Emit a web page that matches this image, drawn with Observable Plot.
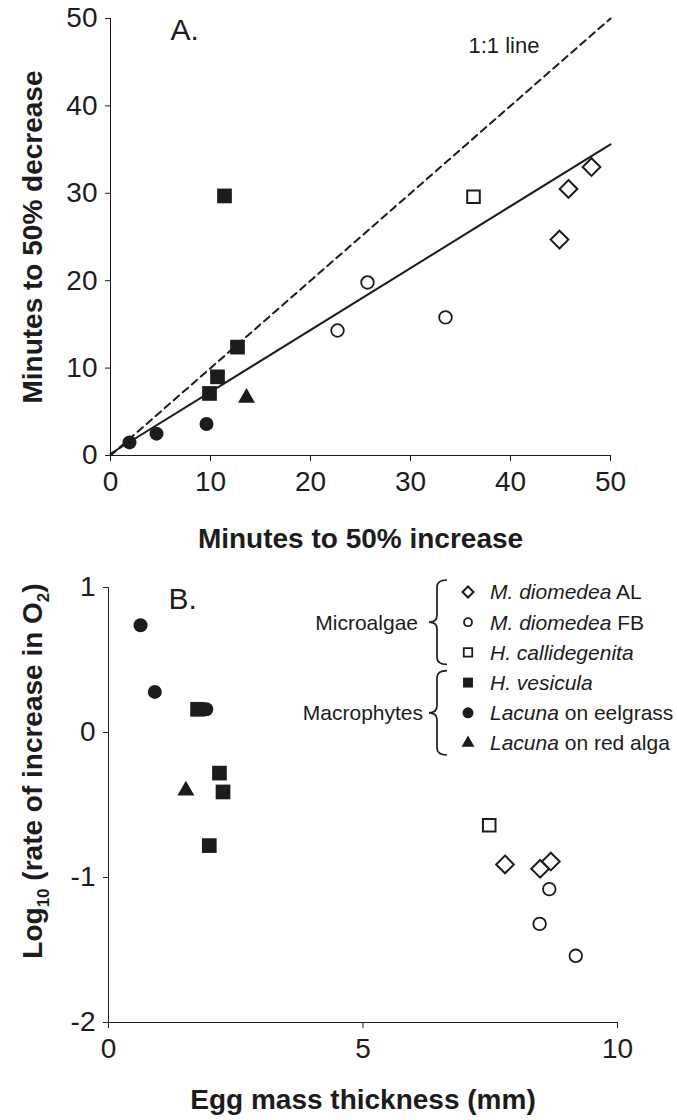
<!DOCTYPE html>
<html><head><meta charset="utf-8">
<script src="https://cdn.jsdelivr.net/npm/d3@7"></script>
<script src="https://cdn.jsdelivr.net/npm/@observablehq/plot@0.6"></script>
<style>
body{margin:0;background:#fff;}
#chart{position:relative;width:677px;height:1120px;background:#fff;}
#chart > div{position:absolute;left:0;}
#chart svg{display:block;}
</style></head><body><div id="chart"><div id="pa" style="top:0"></div><div id="pb" style="top:560px"></div></div>
<script>
// ---------- tick values ----------
const ticksA = [0, 10, 20, 30, 40, 50];
const ticksBx = [0, 5, 10];
const ticksBy = [-2, -1, 0, 1];

// ---------- Panel A: minutes to 50% increase (x) vs decrease (y) ----------
const aAL_x = [44.9, 45.8, 48.1];
const aAL_y = [24.7, 30.5, 33.0];
const aFB_x = [22.7, 25.7, 33.5];
const aFB_y = [14.3, 19.8, 15.8];
const aHC_x = [36.3];
const aHC_y = [29.6];
const aHV_x = [9.9, 10.7, 12.7, 11.4];
const aHV_y = [7.1, 9.0, 12.4, 29.7];
const aLE_x = [1.9, 4.6, 9.6];
const aLE_y = [1.5, 2.5, 3.6];
const aLR_x = [13.6];
const aLR_y = [6.6];
const fitX = [0, 50];
const fitY = [0.2, 35.6];
const oneToOne = [0, 50];

// ---------- Panel B: egg mass thickness (mm) vs log10 rate ----------
const bAL_x = [7.79, 8.48, 8.69];
const bAL_y = [-0.91, -0.94, -0.89];
const bFB_x = [8.66, 8.47, 9.18];
const bFB_y = [-1.08, -1.32, -1.54];
const bHC_x = [7.48];
const bHC_y = [-0.64];
const bHV_x = [1.75, 2.18, 2.25, 1.98];
const bHV_y = [0.16, -0.28, -0.41, -0.78];
const bLE_x = [0.63, 0.91, 1.92];
const bLE_y = [0.74, 0.28, 0.16];
const bLR_x = [1.52];
const bLR_y = [-0.40];

// ---------- legend text ----------
const seriesItalic = ["M. diomedea", "M. diomedea", "H. callidegenita", "H. vesicula", "Lacuna", "Lacuna"];
const seriesRest = [" AL", " FB", "", "", " on eelgrass", " on red alga"];
const groupNames = ["Microalgae", "Macrophytes"];

// ---------- styling ----------
const FONT = "'Liberation Sans', Arial, Helvetica, sans-serif";
const INK = "#1c1c1c";
const pts = (xs, ys) => xs.map((x, i) => ({x, y: ys[i]}));

const markerStyles = [
  {symbol: "diamond2", r: 8, fill: "white", stroke: INK, strokeWidth: 2},
  {symbol: "circle", r: 6.3, fill: "white", stroke: INK, strokeWidth: 1.8},
  {symbol: "square2", r: 8, fill: "white", stroke: INK, strokeWidth: 2},
  {symbol: "square", r: 8.3, fill: INK, stroke: "none"},
  {symbol: "circle", r: 7, fill: INK, stroke: "none"},
  {symbol: "triangle", r: 6.3, fill: INK, stroke: "none"}
];
const legendStyles = [
  {type: d3.symbolDiamond2, r: 5, fill: "white", stroke: INK, sw: 2},
  {type: d3.symbolCircle, r: 4, fill: "white", stroke: INK, sw: 1.8},
  {type: d3.symbolSquare2, r: 5.4, fill: "white", stroke: INK, sw: 1.8},
  {type: d3.symbolSquare, r: 5.6, fill: INK, stroke: "none", sw: 0},
  {type: d3.symbolCircle, r: 5.5, fill: INK, stroke: "none", sw: 0},
  {type: d3.symbolTriangle, r: 4.8, fill: INK, stroke: "none", sw: 0}
];

function dotMarks(seriesXY) {
  return seriesXY.map(([xs, ys], i) => Plot.dot(pts(xs, ys), {x: "x", y: "y", ...markerStyles[i]}));
}

// ---------- Panel A ----------
const plotA = Plot.plot({
  width: 677, height: 560,
  marginTop: 18, marginBottom: 105, marginLeft: 110, marginRight: 67,
  style: {fontFamily: FONT, fontSize: "28px", color: INK, background: "white", overflow: "visible"},
  x: {domain: [0, 50], ticks: ticksA, tickSize: 6, tickPadding: 10, line: true, label: null},
  y: {domain: [0, 50], ticks: ticksA, tickSize: 5, tickPadding: 8, line: true, label: null},
  marks: [
    Plot.line(pts(oneToOne, oneToOne), {x: "x", y: "y", stroke: INK, strokeWidth: 2, strokeDasharray: "7,5"}),
    Plot.line(pts(fitX, fitY), {x: "x", y: "y", stroke: INK, strokeWidth: 2}),
    ...dotMarks([[aAL_x, aAL_y], [aFB_x, aFB_y], [aHC_x, aHC_y], [aHV_x, aHV_y], [aLE_x, aLE_y], [aLR_x, aLR_y]]),
    Plot.text(["A."], {text: d => d, frameAnchor: "top-left", dx: 60, dy: 0, lineAnchor: "top", textAnchor: "start", fontSize: 30, fill: INK}),
    Plot.text(["1:1 line"], {text: d => d, frameAnchor: "top-left", dx: 358, dy: 19, lineAnchor: "top", textAnchor: "start", fontSize: 22, fill: INK}),
    Plot.text(["Minutes to 50% increase"], {text: d => d, frameAnchor: "bottom", dy: 92, lineAnchor: "bottom", fontSize: 28, fontWeight: "bold", fill: INK}),
    Plot.text(["Minutes to 50% decrease"], {text: d => d, frameAnchor: "left", dx: -77, rotate: -90, textAnchor: "middle", lineAnchor: "middle", fontSize: 28, fontWeight: "bold", fill: INK})
  ]
});
document.getElementById("pa").append(plotA);

// ---------- Panel B helpers ----------
function legendMark() {
  const g = d3.create("svg:g").attr("font-family", FONT).attr("font-size", 21).attr("fill", INK)
    .attr("text-anchor", "start").style("white-space", "pre");
  const symX = 468, textX = 490, row0 = 32, step = 30.2;
  const rowY = i => row0 + i * step;
  seriesItalic.forEach((name, i) => {
    const st = legendStyles[i];
    g.append("path")
      .attr("transform", `translate(${symX},${rowY(i)})`)
      .attr("d", d3.symbol(st.type, Math.PI * st.r * st.r)())
      .attr("fill", st.fill).attr("stroke", st.stroke).attr("stroke-width", st.sw);
    const t = g.append("text").attr("x", textX).attr("y", rowY(i)).attr("dy", "0.35em").attr("text-anchor", "start");
    t.append("tspan").attr("font-style", "italic").text(name);
    if (seriesRest[i]) t.append("tspan").text(seriesRest[i]);
  });
  const groups = [[0, 2], [3, 5]];
  const labelRight = [418, 423];
  groups.forEach(([a, b], k) => {
    const top = rowY(a) - 12, bot = rowY(b) + 12, mid = rowY((a + b) / 2);
    const x0 = 429, xm = 437, x1 = 447, r = 7;
    g.append("path")
      .attr("d", `M${x1},${top} Q${xm},${top} ${xm},${top + r} L${xm},${mid - r} Q${xm},${mid} ${x0},${mid} Q${xm},${mid} ${xm},${mid + r} L${xm},${bot - r} Q${xm},${bot} ${x1},${bot}`)
      .attr("fill", "none").attr("stroke", INK).attr("stroke-width", 1.7);
    g.append("text").attr("x", labelRight[k]).attr("y", mid).attr("dy", "0.35em")
      .attr("text-anchor", "end").text(groupNames[k]);
  });
  return g.node();
}

function yTitleB() {
  const t = d3.create("svg:text")
    .attr("transform", "translate(42,211) rotate(-90)")
    .attr("text-anchor", "middle").attr("font-family", FONT)
    .attr("font-weight", "bold").attr("font-size", 28).attr("fill", INK);
  t.append("tspan").text("Log");
  t.append("tspan").attr("font-size", 17).attr("dy", 7).text("10");
  t.append("tspan").attr("dy", -7).text("\u00a0(rate of increase in O");
  t.append("tspan").attr("font-size", 17).attr("dy", 7).text("2");
  t.append("tspan").attr("dy", -7).text(")");
  return t.node();
}

// ---------- Panel B ----------
const plotB = Plot.plot({
  width: 677, height: 560,
  marginTop: 27, marginBottom: 98, marginLeft: 108, marginRight: 60,
  style: {fontFamily: FONT, fontSize: "28px", color: INK, background: "white", overflow: "visible"},
  x: {domain: [0, 10], ticks: ticksBx, tickSize: 6, tickPadding: 10, line: true, label: null},
  y: {domain: [-2, 1], ticks: ticksBy, tickSize: 5, tickPadding: 8, line: true, label: null, tickFormat: d => String(d)},
  marks: [
    ...dotMarks([[bAL_x, bAL_y], [bFB_x, bFB_y], [bHC_x, bHC_y], [bHV_x, bHV_y], [bLE_x, bLE_y], [bLR_x, bLR_y]]),
    Plot.text(["B."], {text: d => d, frameAnchor: "top-left", dx: 60, dy: 0, lineAnchor: "top", textAnchor: "start", fontSize: 30, fill: INK}),
    Plot.text(["Egg mass thickness (mm)"], {text: d => d, frameAnchor: "bottom", dy: 86, lineAnchor: "bottom", fontSize: 28, fontWeight: "bold", fill: INK}),
    yTitleB,
    legendMark
  ]
});
document.getElementById("pb").append(plotB);
</script>
</body></html>
